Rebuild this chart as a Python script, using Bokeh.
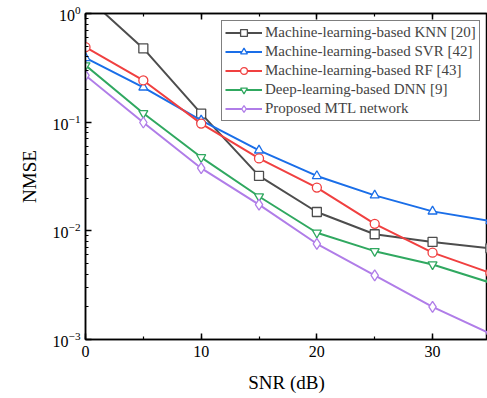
from bokeh.plotting import figure
from bokeh.models import (SingleIntervalTicker, LinearAxis, Legend, LegendItem, Range1d,
                          CustomJSTickFormatter)
from bokeh.embed import file_html
from bokeh.resources import INLINE

snr = [0, 5, 10, 15, 20, 25, 30, 35]
knn = [1.45, 0.477, 0.12, 0.032, 0.0149, 0.0093, 0.0079, 0.0069]
svr = [0.39, 0.209, 0.104, 0.055, 0.032, 0.0212, 0.0151, 0.0123]
rf = [0.49, 0.242, 0.097, 0.0464, 0.025, 0.0116, 0.0063, 0.0041]
dnn = [0.333, 0.121, 0.0475, 0.0207, 0.0096, 0.0065, 0.0049, 0.00333]
mtl = [0.269, 0.0993, 0.0377, 0.0174, 0.0076, 0.0039, 0.0020, 0.00113]

names = ["Machine-learning-based KNN [20]", "Machine-learning-based SVR [42]",
         "Machine-learning-based RF [43]", "Deep-learning-based DNN [9]",
         "Proposed MTL network"]
colors = ["#4d4d4d", "#1a6ee8", "#f04040", "#30a860", "#b07de8"]
markers = ["square", "triangle", "circle", "inverted_triangle", "diamond"]
series = [knn, svr, rf, dnn, mtl]

FONT = "Liberation Serif"

p = figure(width=487, height=396, y_axis_type="log", output_backend="svg",
           toolbar_location=None, x_range=Range1d(0, 34.75), y_range=Range1d(1e-3, 1),
           min_border_left=85, min_border_right=0, min_border_top=13, min_border_bottom=57)
p.grid.visible = False
p.outline_line_color = "black"
p.outline_line_width = 1.5
p.background_fill_color = "white"
p.border_fill_color = "white"

items = []
for name, c, m, s in zip(names, colors, markers, series):
    r1 = p.line(snr, s, line_color=c, line_width=2)
    size = 11 if m == "diamond" else 9
    r2 = p.scatter(snr, s, marker=m, size=size, line_color=c, fill_color="white", line_width=1.3)
    items.append(LegendItem(label=name, renderers=[r1, r2]))

p.xaxis.ticker = SingleIntervalTicker(interval=10, num_minor_ticks=2)
for ax in [p.xaxis[0], p.yaxis[0]]:
    ax.major_tick_in = 6
    ax.major_tick_out = 0
    ax.minor_tick_in = 3
    ax.minor_tick_out = 0
    ax.axis_line_width = 1.5
    ax.major_tick_line_width = 1.5
    ax.minor_tick_line_width = 1.2
    ax.major_label_text_font = FONT
    ax.major_label_text_font_size = "16px"
    ax.major_label_text_color = "black"
    ax.axis_label_text_font = FONT
    ax.axis_label_text_font_size = "19px"
    ax.axis_label_text_font_style = "normal"
    ax.axis_label_text_color = "black"
p.xaxis.axis_label = "SNR (dB)"
p.yaxis.axis_label = "NMSE"
p.xaxis.major_label_standoff = 6
p.xaxis.axis_label_standoff = 12
p.yaxis.axis_label_standoff = 10

top = LinearAxis(ticker=SingleIntervalTicker(interval=10, num_minor_ticks=2),
                 formatter=CustomJSTickFormatter(code="return '';"))
top.major_label_standoff = 0
top.major_tick_in = 6
top.major_tick_out = 0
top.minor_tick_in = 3
top.minor_tick_out = 0
top.axis_line_width = 1.5
top.major_tick_line_width = 1.5
top.minor_tick_line_width = 1.2
p.add_layout(top, "above")

legend = Legend(items=items, location=(136, 218))
legend.label_text_font = FONT
legend.label_text_font_size = "15px"
legend.label_height = 17
legend.glyph_height = 17
legend.glyph_width = 37
legend.spacing = 2
legend.padding = 3
legend.margin = 0
legend.label_standoff = 3
legend.border_line_color = "black"
legend.border_line_width = 1.5
legend.background_fill_alpha = 1
p.add_layout(legend)

open("out.html", "w").write(file_html(p, INLINE))
